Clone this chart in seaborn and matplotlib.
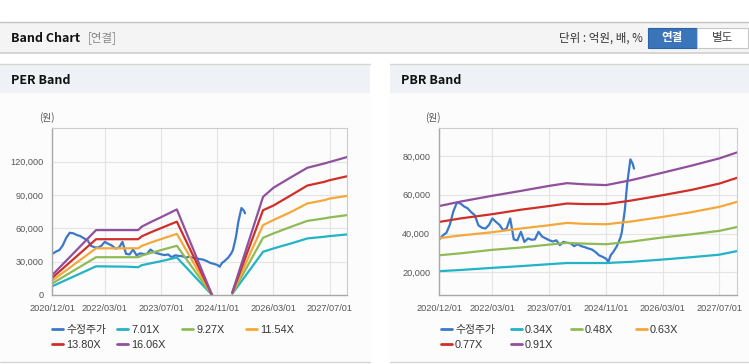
import pandas as pd
import matplotlib
matplotlib.use("Agg")
import matplotlib.pyplot as plt
import matplotlib.dates as mdates
from matplotlib.patches import Rectangle
from matplotlib.lines import Line2D
from matplotlib.ticker import FuncFormatter
import seaborn as sns

# ---- data ----
price_dates = ["2020-12-01", "2021-01-01", "2021-02-01", "2021-03-01", "2021-04-01", "2021-05-01",
               "2021-06-01", "2021-07-01", "2021-08-01", "2021-09-01", "2021-10-01", "2021-11-01",
               "2021-12-01", "2022-01-01", "2022-02-01", "2022-03-01", "2022-04-01", "2022-05-01",
               "2022-06-01", "2022-07-01", "2022-08-01", "2022-09-01", "2022-10-01", "2022-11-01",
               "2022-12-01", "2023-01-01", "2023-02-01", "2023-03-01", "2023-04-01", "2023-05-01",
               "2023-06-01", "2023-07-01", "2023-08-01", "2023-09-01", "2023-10-01", "2023-11-01",
               "2023-12-01", "2024-01-01", "2024-02-01", "2024-03-01", "2024-04-01", "2024-05-01",
               "2024-06-01", "2024-07-01", "2024-08-01", "2024-09-01", "2024-10-01", "2024-11-01",
               "2024-11-20", "2024-12-10", "2025-01-01", "2025-02-01", "2025-03-01", "2025-03-15",
               "2025-04-10", "2025-05-01", "2025-05-28", "2025-06-18", "2025-06-28"]
price = [37000, 39000, 40500, 44500, 51500, 56000,
         55500, 54000, 53000, 51000, 49500, 44300,
         43000, 42600, 44500, 47800, 46000, 44500,
         41800, 42500, 47800, 37000, 36500, 40900,
         35700, 37500, 36800, 37000, 40900, 38500,
         37500, 36600, 35900, 36500, 34000, 35700,
         35200, 35000, 33500, 34500, 33500, 33000,
         32300, 31800, 30500, 28800, 28000, 27000,
         25400, 28800, 30500, 33500, 37500, 40500,
         52000, 66000, 78300, 75800, 73500]

# PER band: two pieces, broken where earnings were not positive
per_dates_a = ["2020-12-01", "2021-12-15", "2022-09-01", "2022-12-15", "2023-01-15",
               "2023-04-01", "2023-07-01", "2023-11-15", "2024-09-15"]
per_dates_b = ["2025-03-10", "2025-12-01", "2026-03-01", "2026-08-01", "2026-12-20",
               "2027-05-15", "2027-07-01", "2027-12-01"]
per_701_a = [7900, 25800, 25500, 25000, 26800, 28500, 30400, 33800, 0]
per_701_b = [1100, 38900, 41900, 46400, 50900, 52400, 53000, 54500]
per_927_a = [10400, 34000, 34000, 34000, 35500, 37800, 40400, 44300, 0]
per_927_b = [1400, 51500, 55400, 61400, 66700, 68900, 69800, 71900]
per_1154_a = [13000, 42000, 42000, 42000, 44200, 47100, 50300, 55000, 0]
per_1154_b = [1800, 62900, 67400, 74800, 82400, 85300, 86800, 89200]
per_1380_a = [15500, 50200, 50200, 50200, 52800, 56300, 60200, 66000, 0]
per_1380_b = [2100, 76300, 80500, 89800, 98500, 101800, 103300, 106900]
per_1606_a = [18000, 58400, 58400, 58400, 61500, 65500, 70000, 77000, 0]
per_1606_b = [2500, 88300, 96500, 106000, 114500, 118300, 119700, 124200]

pbr_dates = ["2020-12-01", "2021-06-01", "2022-03-01", "2022-11-01", "2023-07-01", "2023-12-01",
             "2024-05-01", "2024-11-01", "2025-06-01", "2026-03-01", "2026-11-01", "2027-07-01",
             "2027-12-01"]
pbr_034 = [20600, 21200, 22300, 23200, 24200, 24800, 24800, 24800, 25400, 26600, 27800, 29100, 31000]
pbr_048 = [28800, 29800, 31600, 32800, 34300, 35200, 34800, 34500, 35800, 38000, 39600, 41400, 43400]
pbr_063 = [37600, 39000, 40700, 42600, 44300, 45500, 45000, 44800, 46200, 48600, 51000, 53800, 56400]
pbr_077 = [46000, 47800, 50000, 52300, 54200, 55500, 55200, 55200, 57000, 59800, 62500, 65800, 68800]
pbr_091 = [54200, 56500, 59500, 62000, 64600, 66000, 65400, 65000, 67500, 71400, 75000, 78800, 81900]

x_ticks = ["2020/12/01", "2022/03/01", "2023/07/01", "2024/11/01", "2026/03/01", "2027/07/01"]
per_yticks = [0, 30000, 60000, 90000, 120000]
pbr_yticks = [20000, 40000, 60000, 80000]

price_label = "수정주가"
per_labels = ["7.01X", "9.27X", "11.54X", "13.80X", "16.06X"]
pbr_labels = ["0.34X", "0.48X", "0.63X", "0.77X", "0.91X"]
colors = ["#3a78c8", "#22b3c6", "#8fbb55", "#f5a83a", "#cf2f28", "#90509e"]

# ---- figure ----
W, H = 749, 364
sns.set_theme(style="white")
plt.rcParams["font.family"] = ["Liberation Sans", "Noto Sans CJK KR", "DejaVu Sans"]
KR = ["Noto Sans CJK KR", "DejaVu Sans"]

fig = plt.figure(figsize=(W / 100, H / 100), dpi=100)
fig.patch.set_facecolor("white")


def rect(x0, y0, x1, y1, z=-10, **kw):
    fig.patches.append(Rectangle((x0 / W, 1 - y1 / H), (x1 - x0) / W, (y1 - y0) / H,
                                 transform=fig.transFigure, zorder=z, **kw))


def hline(x0, x1, y, color, lw=1.0):
    fig.add_artist(Line2D([x0 / W, x1 / W], [1 - y / H, 1 - y / H],
                          transform=fig.transFigure, color=color, lw=lw, zorder=-5))


def text(x, y, s, **kw):
    fig.text(x / W, 1 - y / H, s, **kw)


# page header
rect(0, 22, W, 53, facecolor="#f4f4f4", edgecolor="none")
hline(0, W, 22, "#c4c4c4")
hline(0, W, 53, "#cfcfcf", lw=1.2)
text(11, 38, "Band Chart", family=KR, fontsize=9, weight="bold", color="#111", va="center")
text(88, 38, "[연결]", family=KR, fontsize=8.3, color="#888", va="center")
text(643, 38, "단위 : 억원, 배, %", family=KR, fontsize=8.3, color="#333", va="center", ha="right")
rect(648, 28, 697, 48, z=-4, facecolor="#3a74b9", edgecolor="#2f62a0", lw=0.8)
rect(697, 28, 748, 48, z=-4, facecolor="white", edgecolor="#c6c6c6", lw=0.8)
text(672.5, 38, "연결", family=KR, fontsize=8.3, weight="bold", color="white", va="center", ha="center")
text(722.5, 38, "별도", family=KR, fontsize=8.3, color="#444", va="center", ha="center")

# panels
for px0, px1, title in [(0, 370, "PER Band"), (390, W, "PBR Band")]:
    rect(px0, 93, px1, 361, facecolor="#fcfcfc", edgecolor="none")
    rect(px0, 64, px1, 93, facecolor="#eef1f6", edgecolor="none")
    hline(px0, px1, 64, "#d4d4d4")
    hline(px0, px1, 361.5, "#d4d4d4")
    text(px0 + 11, 80, title, family=KR, fontsize=9, weight="bold", color="#111", va="center")


def long_frame(parts):
    frames = []
    for dates, values, label, seg in parts:
        frames.append(pd.DataFrame({"date": pd.to_datetime(dates), "value": values,
                                    "series": label, "seg": seg}))
    return pd.concat(frames, ignore_index=True)


per_df = long_frame([(price_dates, price, price_label, 0)] +
                    [(per_dates_a, v, l, 0) for v, l in zip(
                        [per_701_a, per_927_a, per_1154_a, per_1380_a, per_1606_a], per_labels)] +
                    [(per_dates_b, v, l, 1) for v, l in zip(
                        [per_701_b, per_927_b, per_1154_b, per_1380_b, per_1606_b], per_labels)])
pbr_df = long_frame([(price_dates, price, price_label, 0)] +
                    [(pbr_dates, v, l, 0) for v, l in zip(
                        [pbr_034, pbr_048, pbr_063, pbr_077, pbr_091], pbr_labels)])

comma = FuncFormatter(lambda v, p: f"{int(v):,}")


def draw(rect_px, df, labels, yticks, ylim, unit_x, leg_cols):
    x0, y0, x1, y1 = rect_px
    ax = fig.add_axes([x0 / W, 1 - y1 / H, (x1 - x0) / W, (y1 - y0) / H])
    ax.set_facecolor("#fcfcfc")
    order = [price_label] + labels
    pal = dict(zip(order, colors))
    sns.lineplot(data=df, x="date", y="value", hue="series", units="seg", estimator=None,
                 hue_order=order, palette=pal, lw=1.6, legend=False, ax=ax)
    ax.set_xlim(pd.Timestamp("2020-12-01"), pd.Timestamp("2027-12-01"))
    ax.set_ylim(*ylim)
    ax.set_xticks(pd.to_datetime(x_ticks, format="%Y/%m/%d"))
    ax.xaxis.set_major_formatter(mdates.DateFormatter("%Y/%m/%d"))
    ax.set_yticks(yticks)
    ax.yaxis.set_major_formatter(comma)
    ax.set_xlabel("")
    ax.set_ylabel("")
    ax.grid(True, color="#e4e4e4", lw=0.8)
    ax.set_axisbelow(True)
    for side in ["left", "bottom"]:
        ax.spines[side].set_color("#a8a8a8")
        ax.spines[side].set_linewidth(1.0)
    for side in ["top", "right"]:
        ax.spines[side].set_color("#cccccc")
        ax.spines[side].set_linewidth(0.8)
    ax.tick_params(axis="both", length=4, width=0.8, color="#a8a8a8",
                   labelsize=6.6, labelcolor="#555555", pad=2.5)
    text(unit_x, 118, "(원)", family=KR, fontsize=7, color="#555", va="center", ha="center")

    # legend laid out as fixed-width columns like the page does
    columns = [[0, 4], [1, 5], [2], [3]]
    for n, (items, lx) in enumerate(zip(columns, leg_cols)):
        leg = ax.legend([Line2D([], [], color=pal[order[i]], lw=2) for i in items],
                        [order[i] for i in items],
                        loc="upper left", bbox_to_anchor=(lx / W, 1 - 325 / H),
                        bbox_transform=fig.transFigure, frameon=False, fontsize=7.8,
                        handlelength=1.0, handletextpad=0.3, labelspacing=0.42,
                        borderpad=0, borderaxespad=0, labelcolor="#333")
        if n < len(columns) - 1:
            ax.add_artist(leg)
    return ax


draw((52.3, 128.3, 347.3, 295), per_df, per_labels, per_yticks, (0, 150000), 47, [52, 117, 182, 246])
draw((439.3, 128.3, 737.3, 295), pbr_df, pbr_labels, pbr_yticks, (8300, 94300), 433, [441, 511, 571, 636])

fig.savefig("out.png", dpi=100, facecolor="white")
